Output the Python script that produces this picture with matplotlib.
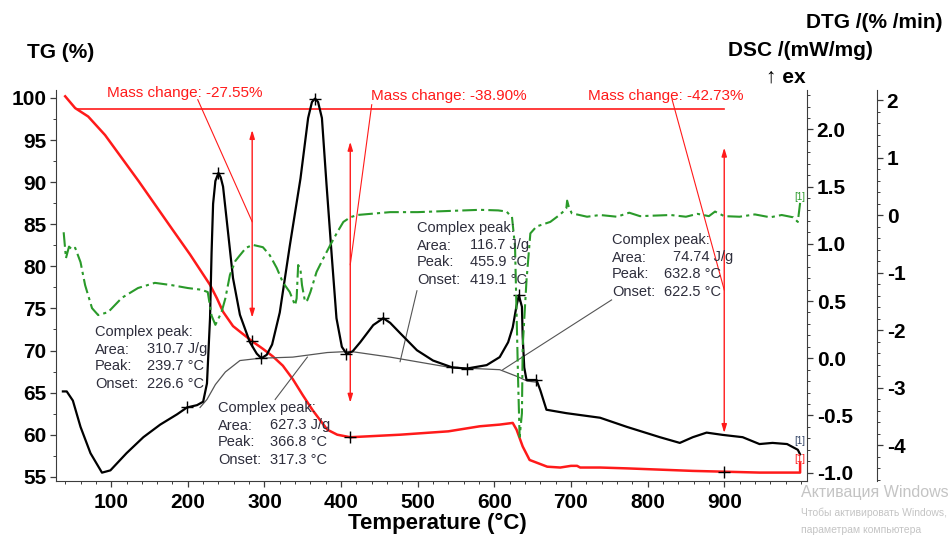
import matplotlib
matplotlib.use('Agg')
import matplotlib.pyplot as plt
from matplotlib.ticker import MultipleLocator, FixedLocator, FormatStrFormatter

plt.rcParams['font.family'] = ['Liberation Sans', 'DejaVu Sans']

# ---------------- data ----------------
tg_T = [40, 53, 70, 92, 136, 179, 203, 229, 238, 246, 259, 270, 284, 298, 311, 324, 337,
        350, 363, 382, 395, 412, 477, 540, 581, 607, 624, 629, 637, 646, 669, 686, 700,
        708, 712, 738, 773, 859, 903, 946, 999, 999]
tg_val = [100.2, 98.8, 97.8, 95.6, 90.1, 84.5, 81.4, 77.8, 76.2, 74.6, 72.9, 72.1, 71.1,
          70.2, 69.3, 68.2, 66.6, 64.7, 62.9, 60.6, 60.0, 59.7, 60.0, 60.4, 61.0, 61.2,
          61.4, 60.6, 58.6, 57.0, 56.2, 56.1, 56.3, 56.3, 56.1, 56.1, 56.0, 55.7, 55.6,
          55.5, 55.5, 56.6]

dsc_T = [37, 42, 50, 60, 73, 88, 99, 120, 142, 164, 186, 199, 212, 220, 225, 229, 231,
         233, 236, 240, 243, 246, 253, 259, 268, 281, 290, 296, 303, 310, 320, 333, 347,
         357, 362, 366, 370, 375, 381, 388, 394, 401, 407, 415, 425, 442, 455, 464, 477,
         499, 520, 545, 564, 590, 607, 618, 624, 629, 632, 636, 637, 639, 642, 655, 660,
         668, 694, 738, 773, 816, 842, 859, 877, 898, 924, 946, 963, 982, 996, 999]
dsc_val = [-0.29, -0.29, -0.37, -0.60, -0.83, -1.00, -0.98, -0.83, -0.69, -0.58, -0.49,
           -0.43, -0.41, -0.38, -0.22, 0.35, 0.92, 1.35, 1.55, 1.62, 1.58, 1.50, 1.07,
           0.70, 0.38, 0.14, 0.04, 0.00, 0.03, 0.12, 0.40, 0.98, 1.57, 2.10, 2.24, 2.27,
           2.24, 2.10, 1.52, 0.88, 0.35, 0.10, 0.04, 0.06, 0.14, 0.29, 0.35, 0.31, 0.22,
           0.07, -0.02, -0.08, -0.09, -0.06, 0.01, 0.14, 0.27, 0.46, 0.55, 0.45, 0.19,
           -0.08, -0.19, -0.19, -0.28, -0.45, -0.48, -0.52, -0.60, -0.69, -0.74, -0.69,
           -0.65, -0.67, -0.69, -0.75, -0.74, -0.75, -0.80, -0.84]

dtg_T = [38, 41, 45, 49, 53, 60, 66, 75, 83, 96, 114, 135, 157, 179, 200, 218, 226, 231,
         236, 244, 249, 255, 262, 268, 276, 285, 298, 307, 316, 324, 333, 340, 342, 344,
         347, 349, 353, 356, 360, 368, 377, 386, 395, 403, 412, 421, 447, 464, 500, 540,
         581, 605, 616, 620, 623, 627, 629, 631, 633, 636, 637, 642, 647, 655, 673, 685,
         690, 694, 695, 697, 701, 721, 738, 760, 776, 790, 810, 830, 850, 865, 880, 888,
         900, 920, 940, 960, 975, 990, 996, 999]
dtg_val = [-0.30, -0.75, -0.55, -0.60, -0.57, -0.82, -1.22, -1.62, -1.74, -1.69, -1.44,
           -1.27, -1.18, -1.22, -1.27, -1.30, -1.34, -1.75, -1.91, -1.69, -1.45, -1.04,
           -0.80, -0.70, -0.57, -0.52, -0.56, -0.70, -0.92, -1.17, -1.34, -1.57, -1.45,
           -0.87, -0.95, -1.22, -1.51, -1.48, -1.34, -0.99, -0.75, -0.52, -0.30, -0.12,
           -0.04, 0.00, 0.03, 0.05, 0.05, 0.07, 0.09, 0.08, 0.06, 0.00, -0.03, -0.55,
           -1.70, -2.87, -3.86, -3.45, -2.29, -1.13, -0.32, -0.20, -0.12, 0.00, 0.06,
           0.12, 0.25, 0.15, 0.03, -0.03, 0.00, -0.03, 0.04, -0.02, -0.01, 0.00, -0.03,
           0.02, -0.02, 0.06, -0.02, -0.03, 0.01, -0.04, 0.00, -0.04, -0.12, 0.21]

base_T = [216, 225, 236, 249, 268, 294, 337, 382, 412, 464, 542, 607, 630, 643, 656]
base_val = [-0.43, -0.36, -0.23, -0.12, -0.02, 0.00, 0.01, 0.05, 0.06, 0.01, -0.08, -0.10,
            -0.16, -0.20, -0.21]

x_ticks = [100, 200, 300, 400, 500, 600, 700, 800, 900]

mass_labels = ['Mass change: -27.55%', 'Mass change: -38.90%', 'Mass change: -42.73%']
mass_arrow_T = [284, 412, 900]
mass_arrow_top = [96.2, 94.8, 94.1]
mass_arrow_bot = [73.9, 63.8, 60.2]
mass_leader_start = [(213, 99.8), (440, 99.2), (832, 99.8)]
mass_leader_end = [(284, 85.3), (412, 80.2), (900, 77.2)]
mass_line_T = [55, 900]
mass_line_TG = [98.7, 98.7]

peak_areas = ['310.7 J/g', '627.3 J/g', '116.7 J/g', '74.74 J/g']
peak_peaks = ['239.7 °C', '366.8 °C', '455.9 °C', '632.8 °C']
peak_onsets = ['226.6 °C', '317.3 °C', '419.1 °C', '622.5 °C']

dsc_marks_T = [199, 240, 366, 296, 407, 455, 545, 564, 632, 655]
dsc_marks_v = [-0.43, 1.62, 2.27, 0.00, 0.04, 0.35, -0.08, -0.09, 0.55, -0.19]
tg_marks_T = [284, 412, 900]
tg_marks_v = [71.1, 59.7, 55.6]

leader_from = [(314, -0.36), (499, 0.59), (753, 0.51)]
leader_to = [(356, 0.01), (477, -0.03), (611, -0.10)]

# ---------------- figure ----------------
W, H = 953, 537
fig = plt.figure(figsize=(W / 100, H / 100), dpi=100)


def fx(x):
    return x / W


def fy(y):
    return 1 - y / H


ax = fig.add_axes([fx(56), fy(481), (807 - 56) / W, (481 - 90) / H])
ax.set_xlim(28, 1008)
ax.set_ylim(54.5, 100.95)
ax2 = ax.twinx()
ax2.set_ylim(-1.073, 2.345)
ax3 = ax.twinx()
ax3.set_ylim(-4.626, 2.174)
ax3.spines['right'].set_position(('axes', (877 - 56) / (807 - 56)))

spc = '#3c3c3c'
for a in (ax, ax2, ax3):
    for s in a.spines.values():
        s.set_visible(False)
        s.set_color(spc)
ax.spines['left'].set_visible(True)
ax.spines['bottom'].set_visible(True)
ax2.spines['right'].set_visible(True)
ax3.spines['right'].set_visible(True)

tick_fs = 15
ax.xaxis.set_major_locator(FixedLocator(x_ticks))
ax.xaxis.set_minor_locator(MultipleLocator(20))
ax.yaxis.set_major_locator(MultipleLocator(5))
ax.yaxis.set_minor_locator(MultipleLocator(2.5))
ax2.yaxis.set_major_locator(MultipleLocator(0.5))
ax2.yaxis.set_minor_locator(MultipleLocator(0.1))
ax2.yaxis.set_major_formatter(FormatStrFormatter('%.1f'))
ax3.yaxis.set_major_locator(MultipleLocator(1))
ax3.yaxis.set_minor_locator(MultipleLocator(0.2))
ax3.yaxis.set_major_formatter(FormatStrFormatter('%d'))

for a in (ax, ax2, ax3):
    a.tick_params(which='major', length=4, width=0.9, color=spc, labelsize=tick_fs, pad=3)
    a.tick_params(which='minor', length=2.5, width=0.7, color=spc)
ax.tick_params(axis='x', which='both', direction='out', pad=5)
for lab in ax.get_xticklabels() + ax.get_yticklabels() + ax2.get_yticklabels() + ax3.get_yticklabels():
    lab.set_fontweight('bold')

# ---------------- curves ----------------
ax.plot(tg_T, tg_val, color='#ff1a1a', lw=1.8, zorder=3)
ax2.plot(dsc_T, dsc_val, color='black', lw=1.6, zorder=3)
ax2.plot(base_T, base_val, color='#555555', lw=0.9, zorder=2)
ax3.plot(dtg_T, dtg_val, color='#2a9a2a', lw=1.5, linestyle=(0, (7, 2, 1.5, 2)), zorder=3)

ax2.plot(dsc_marks_T, dsc_marks_v, linestyle='none', marker='+', ms=8, mew=1.0, color='black', zorder=4)
ax.plot(tg_marks_T, tg_marks_v, linestyle='none', marker='+', ms=8, mew=1.0, color='black', zorder=4)

for (x0, y0), (x1, y1) in zip(leader_from, leader_to):
    ax2.plot([x0, x1], [y0, y1], color='#555555', lw=0.8, zorder=2)

# mass change annotations
red = '#ff1a1a'
ax.plot(mass_line_T, mass_line_TG, color=red, lw=1.2, zorder=2)
for T, t, b in zip(mass_arrow_T, mass_arrow_top, mass_arrow_bot):
    ax.annotate('', xy=(T, t), xytext=(T, b),
                arrowprops=dict(arrowstyle='<|-|>,head_length=0.5,head_width=0.15', color=red, lw=1.0,
                                shrinkA=0, shrinkB=0))
for (x0, y0), (x1, y1) in zip(mass_leader_start, mass_leader_end):
    ax.plot([x0, x1], [y0, y1], color=red, lw=0.8, zorder=2)

mass_pos = [(107, 93), (371, 96), (588, 96)]
for (px, py), s in zip(mass_pos, mass_labels):
    fig.text(fx(px), fy(py), s, color=red, fontsize=11, ha='left', va='center')

# complex peak text blocks
tc = '#2e2e3c'
blocks = [(95, 147, 332), (218, 270, 408), (417, 470, 228), (612, 664, 240)]
row_dy = [0, 17.5, 34.5, 51.5]
for (lx, vx, y0), a_, p_, o_ in zip(blocks, peak_areas, peak_peaks, peak_onsets):
    fs = 10.5
    fig.text(fx(lx), fy(y0), 'Complex peak:', color=tc, fontsize=fs, ha='left', va='center')
    fig.text(fx(lx), fy(y0 + row_dy[1]), 'Area:', color=tc, fontsize=fs, ha='left', va='center')
    fig.text(fx(lx), fy(y0 + row_dy[2]), 'Peak:', color=tc, fontsize=fs, ha='left', va='center')
    fig.text(fx(lx), fy(y0 + row_dy[3]), 'Onset:', color=tc, fontsize=fs, ha='left', va='center')
    avx = vx + 9 if a_.startswith('74') else vx
    fig.text(fx(avx), fy(y0 + row_dy[1]), a_, color=tc, fontsize=fs, ha='left', va='center')
    fig.text(fx(vx), fy(y0 + row_dy[2]), p_, color=tc, fontsize=fs, ha='left', va='center')
    fig.text(fx(vx), fy(y0 + row_dy[3]), o_, color=tc, fontsize=fs, ha='left', va='center')

# curve end tags
fig.text(fx(794), fy(197), '[1]', color='#2a9a2a', fontsize=7, ha='left', va='center')
fig.text(fx(794), fy(441), '[1]', color='#334466', fontsize=7, ha='left', va='center')
fig.text(fx(794), fy(459), '[1]', color=red, fontsize=7, ha='left', va='center')

# axis titles
fig.text(fx(27), fy(52), 'TG (%)', fontsize=15, fontweight='bold', ha='left', va='center')
fig.text(fx(806), fy(22), 'DTG /(% /min)', fontsize=15, fontweight='bold', ha='left', va='center')
fig.text(fx(728), fy(50), 'DSC /(mW/mg)', fontsize=15, fontweight='bold', ha='left', va='center')
fig.text(fx(766), fy(77), '↑ ex', fontsize=15, fontweight='bold', ha='left', va='center')
fig.text(fx(437), fy(523), 'Temperature (°C)', fontsize=16, fontweight='bold', ha='center', va='center')

# watermark
fig.text(fx(801), fy(493), 'Активация Windows', color='#c4c4c4', fontsize=11.5, ha='left', va='center')
fig.text(fx(801), fy(513), 'Чтобы активировать Windows,', color='#c4c4c4',
         fontsize=7.5, ha='left', va='center')
fig.text(fx(801), fy(530), 'параметрам компьютера', color='#c4c4c4',
         fontsize=7.5, ha='left', va='center')

fig.savefig('out.png', dpi=100)
